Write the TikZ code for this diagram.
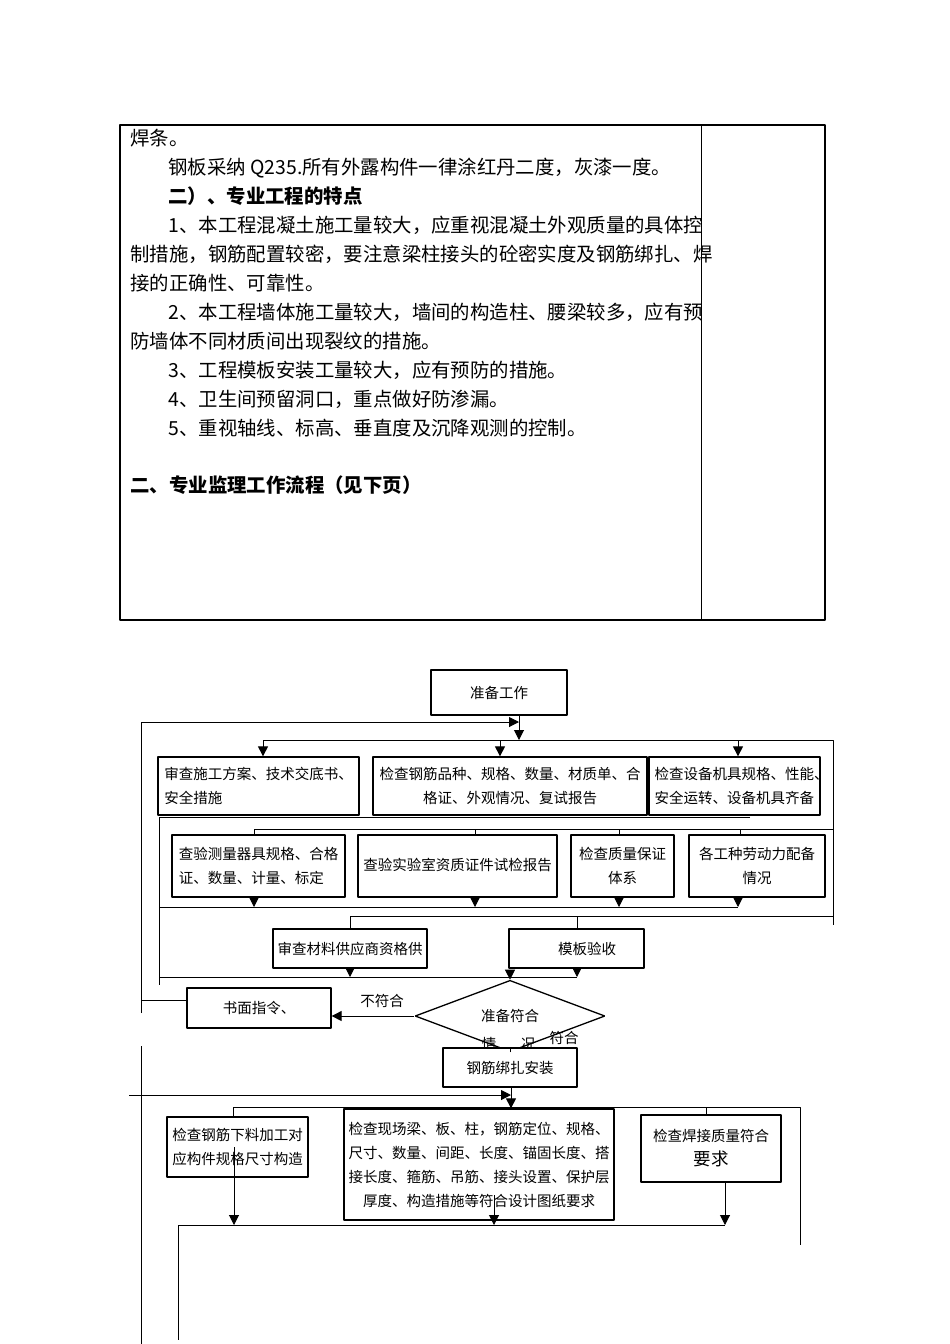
\documentclass[tikz,border=0pt]{standalone}
\usepackage{fontspec}
\setmainfont{Noto Sans CJK SC}
\usepackage{tikz}
\usetikzlibrary{arrows.meta}
\usetikzlibrary{shapes.geometric}

\tikzset{
  flowbox/.style={draw, line width=1.3pt, fill=white, inner sep=1pt, font=\fontsize{14.5}{24}\selectfont},
  bodytext/.style={anchor=base west, inner sep=0pt, font=\fontsize{19.4}{24}\selectfont},
  flowtext/.style={inner sep=0pt, font=\fontsize{14.5}{24}\selectfont},
}

\begin{document}
\begin{tikzpicture}[>={Triangle[length=10pt,width=10pt]}, x=1pt, y=-1pt, line join=bevel, line width=1pt]
\useasboundingbox (0,0) rectangle (950,1344);
%% text frame
\node (line_1) at (130,145.5) [bodytext] {焊条。};
\node (line_2) at (168,174.5) [bodytext] {钢板采纳 Q235.所有外露构件一律涂红丹二度，灰漆一度。};
\node (line_3) at (168,203.5) [bodytext] {\bfseries 二）、专业工程的特点};
\node (line_4) at (168,232.5) [bodytext] {1、本工程混凝土施工量较大，应重视混凝土外观质量的具体控};
\node (line_5) at (130,261.5) [bodytext] {制措施，钢筋配置较密，要注意梁柱接头的砼密实度及钢筋绑扎、焊};
\node (line_6) at (130,290.5) [bodytext] {接的正确性、可靠性。};
\node (line_7) at (168,319.5) [bodytext] {2、本工程墙体施工量较大，墙间的构造柱、腰梁较多，应有预};
\node (line_8) at (130,348.5) [bodytext] {防墙体不同材质间出现裂纹的措施。};
\node (line_9) at (168,377.5) [bodytext] {3、工程模板安装工量较大，应有预防的措施。};
\node (line_10) at (168,406.5) [bodytext] {4、卫生间预留洞口，重点做好防渗漏。};
\node (line_11) at (168,435.5) [bodytext] {5、重视轴线、标高、垂直度及沉降观测的控制。};
\node (line_12) at (130,492.5) [bodytext] {\bfseries 二、专业监理工作流程（见下页）};
\draw [line width=2.5pt] (120,125) rectangle (825,620);
\draw [line width=1pt] (701,125) -- (701,620);
%% flow chart boxes
\node (node_prep) at (499,692.5) [flowbox, minimum width=136pt, minimum height=45pt] {准备工作};
\node (node_plan) at (258.5,786) [flowbox, minimum width=201pt, minimum height=58pt, align=left] {审查施工方案、技术交底书、\\安全措施};
\node (node_rebar) at (510,786) [flowbox, minimum width=274pt, minimum height=58pt, align=center] {检查钢筋品种、规格、数量、材质单、合\\格证、外观情况、复试报告};
\node (node_equip) at (734.5,786) [flowbox, minimum width=171pt, minimum height=58pt, inner xsep=0pt, align=left] {\makebox[160pt][l]{检查设备机具规格、性能、}\\安全运转、设备机具齐备};
\node (node_gauge) at (258.5,866) [flowbox, minimum width=173pt, minimum height=62pt, align=left] {查验测量器具规格、合格\\证、数量、计量、标定};
\node (node_lab) at (457.5,866) [flowbox, minimum width=199pt, minimum height=62pt] {\raisebox{3pt}{查验实验室资质证件试检报告}};
\node (node_quality) at (622.5,866) [flowbox, minimum width=103pt, minimum height=62pt, align=center] {检查质量保证\\体系};
\node (node_labour) at (757,866) [flowbox, minimum width=136pt, minimum height=62pt, align=center] {各工种劳动力配备\\情况};
\node (node_supplier) at (350,948.5) [flowbox, minimum width=154pt, minimum height=39pt] {审查材料供应商资格供};
\node (node_formwork) at (576.5,948.5) [flowbox, minimum width=135pt, minimum height=39pt] {\hspace*{21pt}模板验收};
\node (node_check) at (510,1016) [draw, diamond, line width=1.3pt, inner sep=0pt, minimum width=190pt, minimum height=55pt, font=\fontsize{14.5}{24}\selectfont] {\raisebox{-3pt}{准备符合}};
\node (node_writ) at (259,1008) [flowbox, minimum width=144pt, minimum height=40pt] {书面指令、};
\node (lab_no) at (382,1001) [flowtext] {不符合};
\node (lab_q1) at (489,1044) [flowtext] {情};
\node (lab_q2) at (528,1044) [flowtext] {况};
\node (lab_yes) at (564,1038) [flowtext] {符合};
\node (node_tying) at (510,1067.5) [flowbox, minimum width=134pt, minimum height=39pt] {钢筋绑扎安装};
\node (node_cut) at (237.5,1147) [flowbox, minimum width=141pt, minimum height=60pt, align=center] {检查钢筋下料加工对\\应构件规格尺寸构造};
\node (node_site) at (479,1164.5) [flowbox, minimum width=270pt, minimum height=111pt, align=center] {检查现场梁、板、柱，钢筋定位、规格、\\尺寸、数量、间距、长度、锚固长度、搭\\接长度、箍筋、吊筋、接头设置、保护层\\厚度、构造措施等符合设计图纸要求};
\node (node_weld) at (711,1148.5) [flowbox, minimum width=140pt, minimum height=67pt, align=center] {检查焊接质量符合\\{\fontsize{17.5}{20}\selectfont 要求}};
%% junctions
\coordinate (j_top) at (519,740);
\coordinate (j_back) at (519,722);
\coordinate (back_1) at (141,1013);
\coordinate (back_2) at (141,1000);
\coordinate (back_3) at (141,722);
\coordinate (bus_1l) at (263,740);
\coordinate (bus_1m) at (500,740);
\coordinate (bus_1k) at (738,740);
\coordinate (bus_1r) at (833,740);
\coordinate (bus_1e) at (833,925);
\coordinate (col_1l) at (159,817);
\coordinate (col_1r) at (750,817);
\coordinate (col_bot) at (159,985);
\coordinate (bus_2l) at (254,829);
\coordinate (bus_2b) at (475,829);
\coordinate (bus_2c) at (619,829);
\coordinate (bus_2d) at (740,829);
\coordinate (bus_2r) at (833,829);
\coordinate (col_2l) at (159,907);
\coordinate (col_2a) at (254,907);
\coordinate (col_2b) at (475,907);
\coordinate (col_2c) at (619,907);
\coordinate (col_2d) at (738,907);
\coordinate (bus_3l) at (350,916);
\coordinate (bus_3b) at (577,916);
\coordinate (bus_3r) at (833,916);
\coordinate (col_3l) at (159,977);
\coordinate (col_3a) at (350,977);
\coordinate (col_3b) at (577,977);
\coordinate (col_3m) at (510,977);
\coordinate (in_l) at (129,1095);
\coordinate (in_r) at (511,1095);
\coordinate (bus_4l) at (233,1107);
\coordinate (bus_4c) at (706,1107);
\coordinate (bus_4r) at (800,1107);
\coordinate (bus_4e) at (800,1245);
\coordinate (col_4l) at (178,1225);
\coordinate (col_4e) at (178,1340);
\coordinate (col_4a) at (234,1225);
\coordinate (col_4b) at (494,1225);
\coordinate (col_4c) at (725,1225);
\coordinate (site_out) at (494,1195);
\coordinate (left_1) at (141,1046);
\coordinate (left_2) at (141,1344);
%% connectors
\draw [black,->] (node_prep.south -| j_top) -- (j_top);
\draw [black,->] (back_1) -- (back_3) -- (j_back);
\draw [black] (back_2) -- (back_2 -| node_writ.west);
\draw [black] (bus_1l) -- (bus_1r) -- (bus_1e);
\draw [black,->] (bus_1l) -- (bus_1l |- node_plan.north);
\draw [black,->] (bus_1m) -- (bus_1m |- node_rebar.north);
\draw [black,->] (bus_1k) -- (bus_1k |- node_equip.north);
\draw [black] (col_1r) -- (col_1l) -- (col_bot);
\draw [black] (bus_2l) -- (bus_2r);
\draw [black] (bus_2l) -- (bus_2l |- node_gauge.north);
\draw [black] (bus_2b) -- (bus_2b |- node_lab.north);
\draw [black] (bus_2c) -- (bus_2c |- node_quality.north);
\draw [black] (bus_2d) -- (bus_2d |- node_labour.north);
\draw [black,->] (col_2a |- node_gauge.south) -- (col_2a);
\draw [black,->] (col_2b |- node_lab.south) -- (col_2b);
\draw [black,->] (col_2c |- node_quality.south) -- (col_2c);
\draw [black,->] (col_2d |- node_labour.south) -- (col_2d);
\draw [black] (col_2l) -- (col_2d);
\draw [black] (bus_3l) -- (bus_3r);
\draw [black] (bus_3l) -- (bus_3l |- node_supplier.north);
\draw [black] (bus_3b) -- (bus_3b |- node_formwork.north);
\draw [black,->] (col_3a |- node_supplier.south) -- (col_3a);
\draw [black,->] (col_3b |- node_formwork.south) -- (col_3b);
\draw [black] (col_3l) -- (col_3b);
\draw [black,->] (col_3m) -- (node_check.north);
\draw [black,->] (node_check.west) -- (node_check.west -| node_writ.east);
\draw [black] (node_check.south) -- (node_tying.north);
\draw [black,->] (in_l) -- (in_r);
\draw [black,->] (node_tying.south -| in_r) -- (in_r |- node_site.north);
\draw [black] (bus_4l) -- (bus_4r) -- (bus_4e);
\draw [black] (bus_4l) -- (bus_4l |- node_cut.north);
\draw [black] (bus_4c) -- (bus_4c |- node_weld.north);
\draw [black,->] (col_4a |- node_cut.center) -- (col_4a);
\draw [black,->] (site_out) -- (col_4b);
\draw [black,->] (col_4c |- node_weld.south) -- (col_4c);
\draw [black] (col_4c) -- (col_4l) -- (col_4e);
\draw [black] (left_1) -- (left_2);
%
\end{tikzpicture}
\end{document}
